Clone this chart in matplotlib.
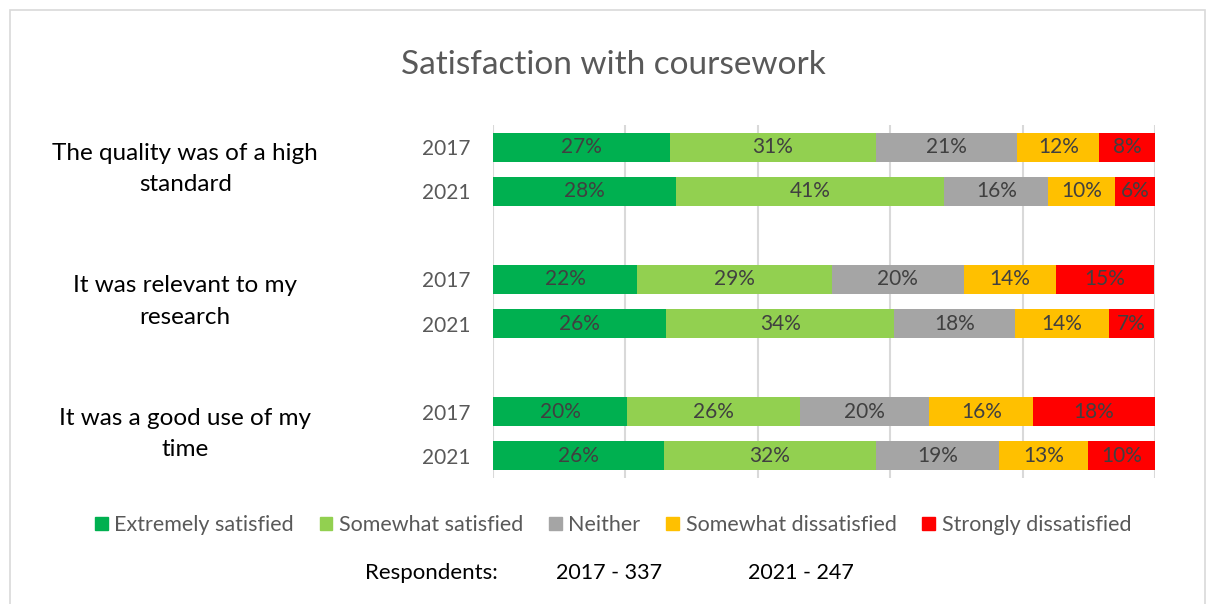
import numpy as np
import matplotlib
matplotlib.use("Agg")
from matplotlib import pyplot as plt
from matplotlib.patches import Rectangle, Patch

plt.rcParams['font.family'] = ['Lato', 'DejaVu Sans']

# data (percent of respondents)
questions = ["The quality was of a high\nstandard",
             "It was relevant to my\nresearch",
             "It was a good use of my\ntime"]
years = ["2017", "2021"]
categories = ["Extremely satisfied", "Somewhat satisfied", "Neither",
              "Somewhat dissatisfied", "Strongly dissatisfied"]
colors = ["#00B050", "#92D050", "#A5A5A5", "#FFC000", "#FF0000"]

vals_2017 = [[26.7, 31.2, 21.3, 12.4, 8.4],
             [21.8, 29.4, 19.9, 13.9, 14.9],
             [20.3, 26.0, 19.6, 15.7, 18.4]]
vals_2021 = [[27.6, 40.6, 15.7, 10.1, 6.1],
             [26.2, 34.4, 18.2, 14.2, 6.9],
             [25.8, 32.1, 18.6, 13.4, 10.2]]
respondents = {"2017": 337, "2021": 247}

grey = "#595959"
fig = plt.figure(figsize=(12.08, 6.04), dpi=100)
fig.patches.append(Rectangle((10/1208, -0.1), 1195/1208, 1.1 - 10/604,
                             transform=fig.transFigure, fill=False,
                             edgecolor="#D9D9D9", lw=1.2))

ax = fig.add_axes([493/1208, 1 - 478/604, 662/1208, 353/604])

rows = []
ypos = []
for g in range(len(questions)):
    rows.append(vals_2017[g]); ypos.append(3*g)
    rows.append(vals_2021[g]); ypos.append(3*g + 1)
rows = np.array(rows)
ypos = np.array(ypos)

left = np.zeros(len(rows))
for k, cat in enumerate(categories):
    w = rows[:, k]
    bars = ax.barh(ypos, w, left=left, height=0.66, color=colors[k],
                   label=cat, zorder=3)
    for b, v in zip(bars, w):
        ax.text(b.get_x() + b.get_width()/2, b.get_y() + b.get_height()/2,
                f"{round(v):.0f}%", ha="center", va="center",
                fontsize=15, color="#404040", zorder=4)
    left += w

ax.set_xlim(0, 100)
ax.set_ylim(7.5, -0.5)
ax.set_xticks(np.arange(0, 101, 20))
ax.xaxis.grid(True, color="#D9D9D9", lw=1.5, zorder=0)
ax.tick_params(length=0, labelbottom=False)
ax.set_yticks(ypos)
ax.set_yticklabels(years * len(questions), fontsize=15, color=grey)
ax.tick_params(axis="y", pad=16)
for s in ax.spines.values():
    s.set_visible(False)

for g, q in enumerate(questions):
    ax.text(-46.5, 3*g + 0.5, q, ha="center", va="center", fontsize=17.5,
            color="black", transform=ax.transData, linespacing=1.6)

fig.text(613/1208, 1 - 65/604, "Satisfaction with coursework",
         ha="center", va="center", fontsize=24, color=grey)

handles = [Patch(color=c, label=l) for c, l in zip(colors, categories)]
fig.legend(handles=handles, loc="center", bbox_to_anchor=(613/1208, 1 - 525/604),
           ncol=5, frameon=False, fontsize=15.5, labelcolor=grey,
           handlelength=0.6, handleheight=0.6, handletextpad=0.3,
           columnspacing=1.2)

fig.text(365/1208, 1 - 573/604, "Respondents:", ha="left", va="center",
         fontsize=16, color="black")
xs = [556, 748]
for x, y in zip(xs, years):
    fig.text(x/1208, 1 - 573/604, f"{y} - {respondents[y]}", ha="left",
             va="center", fontsize=15.5, color="black")

fig.savefig("out.png", dpi=100)
